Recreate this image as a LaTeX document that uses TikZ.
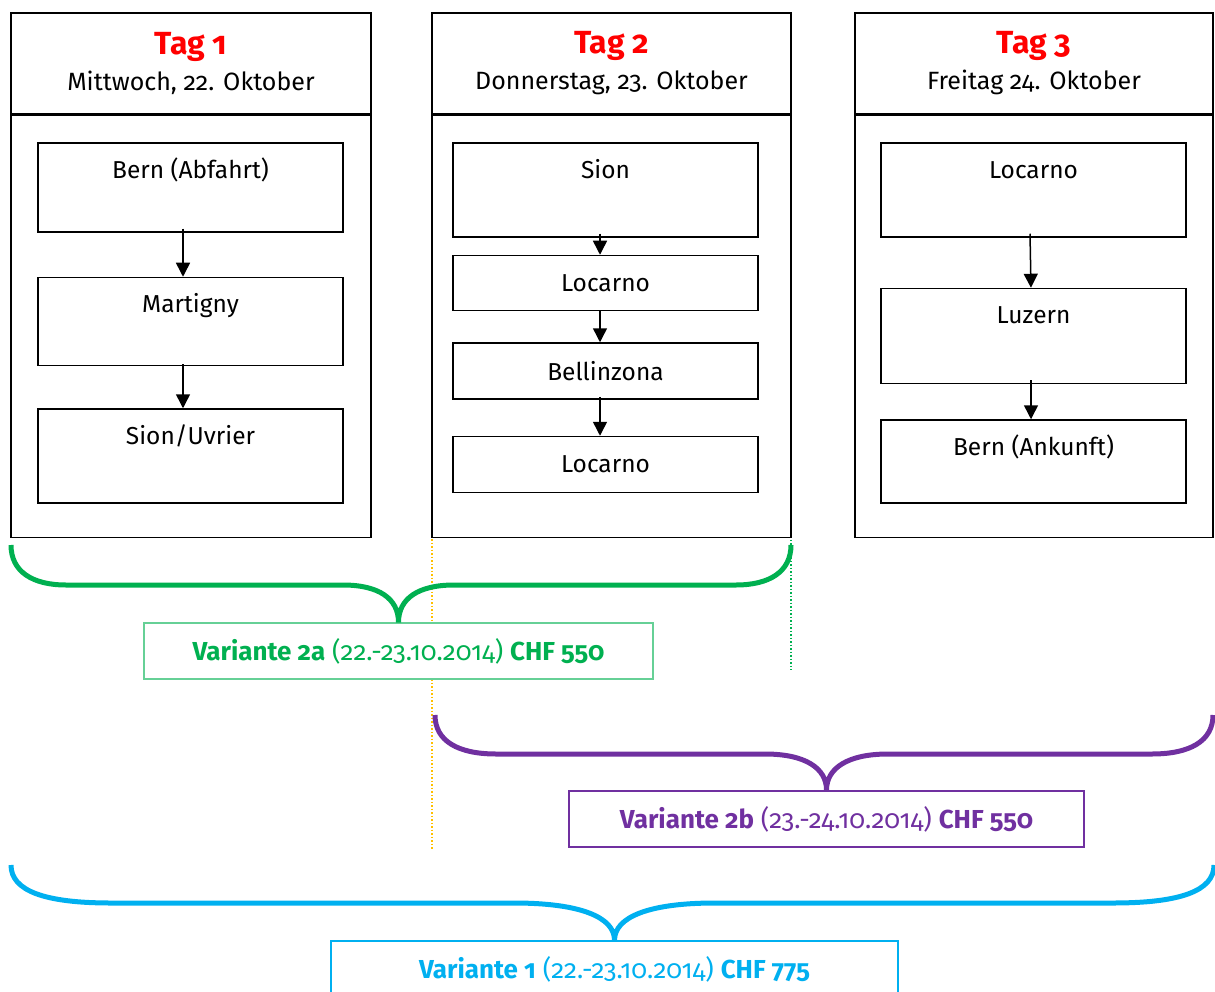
\documentclass[tikz,border=0pt]{standalone}
\usepackage{fontspec}
\setmainfont{Fira Sans}[Numbers=OldStyle]
\usepackage{tikz}
\usetikzlibrary{arrows.meta, positioning, calc}
\definecolor{tagred}{RGB}{255,0,0}
\definecolor{vargreen}{RGB}{0,176,80}
\definecolor{varpurple}{RGB}{112,48,160}
\definecolor{varcyan}{RGB}{0,176,240}
\definecolor{guidegold}{RGB}{255,192,0}

\begin{document}
\begin{tikzpicture}[
    x=1pt, y=-1pt,
    head/.style={draw, line width=1.5pt, minimum width=360pt, minimum height=101pt, align=center, inner sep=0pt, font=\fontsize{25}{36}\selectfont},
    body/.style={draw, line width=1.5pt, minimum width=360pt, minimum height=422pt, inner sep=0pt},
    stop/.style={draw, line width=1.5pt, minimum width=305pt, inner sep=0pt, font=\fontsize{24.5}{28}\selectfont},
    toptext/.style={label={[anchor=base, yshift=-36pt, font=\fontsize{24.5}{28}\selectfont]north:#1}},
    arrow/.style={-{Triangle[length=14pt, width=14pt]}, line width=1.5pt},
    vbox/.style={draw, fill=white, minimum height=56pt, inner sep=0pt, font=\fontsize{26}{28}\selectfont},
    brace/.style={line width=5pt},
    guide/.style={line width=1.5pt, dotted}
]
    \useasboundingbox (0,0) rectangle (1215,992);

    % dotted guides
    \draw[guide, guidegold] (432,525) -- (432,850);
    \draw[guide, vargreen] (791,515) -- (791,670);

    % day columns
    \node[head] (head1) at (191,63.5) {{\fontsize{32}{32}\selectfont\bfseries\color{tagred}Tag 1}\\Mittwoch, 22. Oktober};
    \node[body, below=0pt of head1] (body1) {};
    \node[head, minimum width=359pt] (head2) at (611.5,63.5) {{\fontsize{32}{32}\selectfont\bfseries\color{tagred}Tag 2}\\Donnerstag, 23. Oktober};
    \node[body, minimum width=359pt, below=0pt of head2] (body2) {};
    \node[head, minimum width=358pt] (head3) at (1034,63.5) {{\fontsize{32}{32}\selectfont\bfseries\color{tagred}Tag 3}\\Freitag 24. Oktober};
    \node[body, minimum width=358pt, below=0pt of head3] (body3) {};

    % Tag 1
    \node[stop, minimum height=89pt, toptext={Bern (Abfahrt)}] (bern1) at (190.5,187.5) {};
    \node[stop, minimum height=88pt, below=44pt of bern1, toptext={Martigny}] (martigny) {};
    \node[stop, minimum height=94pt, below=42pt of martigny, toptext={Sion/Uvrier}] (uvrier) {};
    \draw[arrow] ([xshift=-7.5pt, yshift=4pt]bern1.south) -- ([xshift=-7.5pt]martigny.north);
    \draw[arrow] ([xshift=-7.5pt, yshift=2pt]martigny.south) -- ([xshift=-7.5pt]uvrier.north);

    % Tag 2
    \node[stop, minimum height=94pt, toptext={Sion}] (sion) at (605.5,190) {};
    \node[stop, minimum height=55pt, below=17pt of sion] (locarno1) {Locarno};
    \node[stop, minimum height=56pt, below=31pt of locarno1] (bellinzona) {Bellinzona};
    \node[stop, minimum height=56pt, below=36pt of bellinzona] (locarno2) {Locarno};
    \draw[arrow] ([xshift=-5.5pt, yshift=4pt]sion.south) -- ([xshift=-5.5pt]locarno1.north);
    \draw[arrow] ([xshift=-5.5pt]locarno1.south) -- ([xshift=-5.5pt]bellinzona.north);
    \draw[arrow] ([xshift=-5.5pt, yshift=3pt]bellinzona.south) -- ([xshift=-5.5pt]locarno2.north);

    % Tag 3
    \node[stop, minimum height=94pt, toptext={Locarno}] (locarno3) at (1033.5,190) {};
    \node[stop, minimum height=95pt, below=50pt of locarno3, toptext={Luzern}] (luzern) {};
    \node[stop, minimum height=83pt, below=35pt of luzern, toptext={Bern (Ankunft)}] (bern3) {};
    \draw[arrow] ([xshift=-3.5pt, yshift=4pt]locarno3.south) -- ([xshift=-2.5pt]luzern.north);
    \draw[arrow] ([xshift=-2.5pt, yshift=4pt]luzern.south) -- ([xshift=-2.5pt]bern3.north);

    % Varianten
    \node[vbox, draw=vargreen!60, line width=1.2pt, text=vargreen, minimum width=509pt] (var2a) at (398.5,651)
        {\textbf{Variante 2a} (22.-23.10.2014) \textbf{CHF 550}};
    \node[vbox, draw=varpurple, line width=1.8pt, text=varpurple, minimum width=515pt] (var2b) at (826.5,819)
        {\textbf{Variante 2b} (23.-24.10.2014) \textbf{CHF 550}};
    \node[vbox, draw=varcyan, line width=1.5pt, text=varcyan, minimum width=567pt] (var1) at (614.5,969)
        {\textbf{Variante 1} (22.-23.10.2014) \textbf{CHF 775}};

    % braces
    \draw[brace, vargreen] (11,545) .. controls (11,572) and (33,585) .. (66,585) -- (343,585)
        .. controls (378,585) and (398.5,598) .. (var2a.north)
        .. controls (398.5,598) and (419,585) .. (454,585) -- (736,585)
        .. controls (769,585) and (791,572) .. (791,545);
    \draw[brace, varpurple] (435,715) .. controls (435,741) and (458,754) .. (496,754) -- (765,754)
        .. controls (805,754) and (826.5,768) .. (var2b.north)
        .. controls (826.5,768) and (848,754) .. (888,754) -- (1152,754)
        .. controls (1190,754) and (1213,741) .. (1213,715);
    \draw[brace, varcyan] (11,865) .. controls (11,891) and (45,903) .. (111,903) -- (514,903)
        .. controls (580,903) and (614.5,917) .. (var1.north)
        .. controls (614.5,917) and (649,903) .. (715,903) -- (1113,903)
        .. controls (1180,903) and (1214,891) .. (1214,865);
\end{tikzpicture}
\end{document}
